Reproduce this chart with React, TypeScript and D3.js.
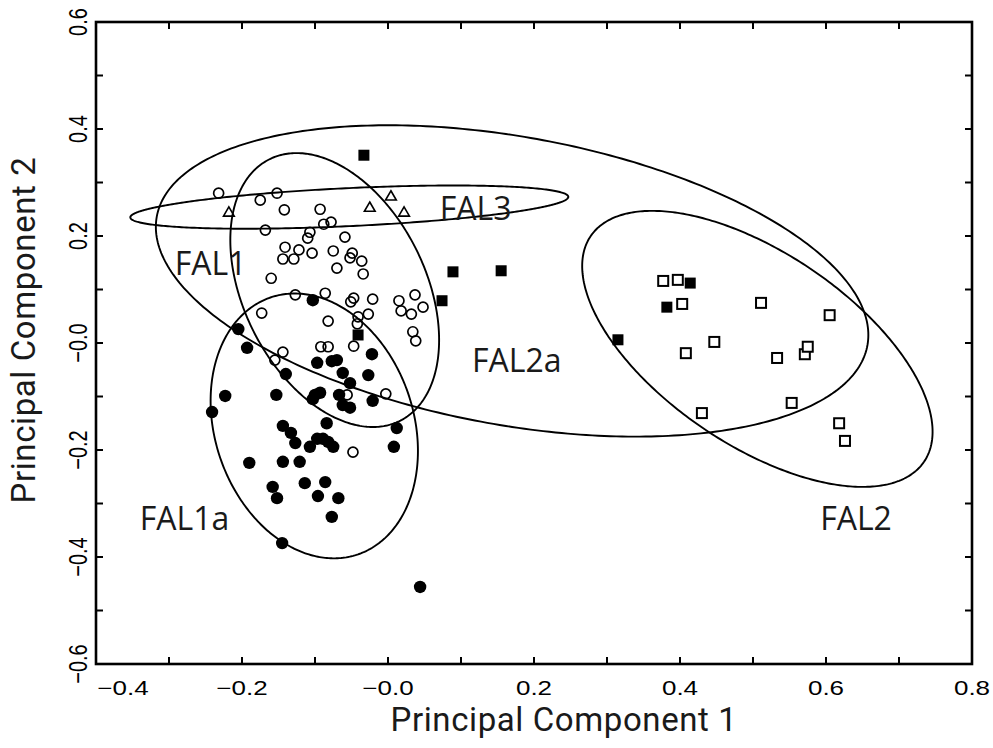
import React from 'react';
import * as d3 from 'd3';

const W = 993;
const H = 748;

// FAL1 – open circles
const fal1X = [-0.232, -0.175, -0.152, -0.142, -0.093, -0.088, -0.078, -0.168, -0.107, -0.110, -0.059, -0.141, -0.122, -0.104, -0.144, -0.129, -0.075, -0.049, -0.052, -0.036, -0.070, -0.034, -0.160, -0.127, -0.086, -0.051, -0.047, -0.021, 0.015, 0.037, 0.018, 0.032, 0.048, -0.173, -0.082, -0.027, -0.041, -0.042, 0.034, 0.038, -0.047, -0.092, -0.082, -0.144, -0.155, -0.003, -0.056, -0.048];
const fal1Y = [0.280, 0.267, 0.280, 0.249, 0.250, 0.222, 0.226, 0.211, 0.207, 0.196, 0.198, 0.179, 0.174, 0.168, 0.157, 0.157, 0.172, 0.168, 0.159, 0.153, 0.140, 0.129, 0.121, 0.090, 0.093, 0.077, 0.084, 0.082, 0.079, 0.090, 0.060, 0.054, 0.067, 0.056, 0.041, 0.054, 0.049, 0.036, 0.021, 0.004, -0.006, -0.007, -0.007, -0.017, -0.032, -0.095, -0.097, -0.204];

// FAL1a – filled circles
const fal1aX = [-0.103, -0.205, -0.193, -0.022, -0.097, -0.077, -0.070, -0.140, -0.062, -0.052, -0.027, -0.223, -0.153, -0.100, -0.093, -0.103, -0.067, -0.062, -0.052, -0.021, -0.241, -0.084, 0.012, -0.144, -0.133, -0.127, -0.107, -0.097, -0.089, -0.082, -0.075, 0.008, -0.190, -0.144, -0.121, -0.114, -0.086, -0.158, -0.152, -0.096, -0.068, -0.077, -0.145, 0.044];
const fal1aY = [0.080, 0.026, -0.009, -0.021, -0.037, -0.034, -0.032, -0.058, -0.056, -0.075, -0.060, -0.099, -0.097, -0.097, -0.093, -0.105, -0.097, -0.116, -0.121, -0.108, -0.129, -0.150, -0.159, -0.155, -0.168, -0.187, -0.194, -0.179, -0.179, -0.185, -0.194, -0.194, -0.224, -0.222, -0.222, -0.262, -0.260, -0.269, -0.290, -0.286, -0.290, -0.325, -0.374, -0.456];

// FAL2 – open squares
const fal2X = [0.377, 0.397, 0.403, 0.511, 0.605, 0.447, 0.408, 0.533, 0.571, 0.575, 0.430, 0.553, 0.618, 0.626];
const fal2Y = [0.116, 0.118, 0.073, 0.075, 0.052, 0.002, -0.019, -0.028, -0.021, -0.007, -0.131, -0.112, -0.150, -0.183];

// FAL2a – filled squares
const fal2aX = [-0.033, 0.089, 0.155, 0.074, -0.041, 0.315, 0.382, 0.414];
const fal2aY = [0.351, 0.133, 0.135, 0.079, 0.015, 0.006, 0.067, 0.112];

// FAL3 – open triangles
const fal3X = [-0.218, -0.025, 0.004, 0.022];
const fal3Y = [0.243, 0.252, 0.273, 0.243];

// Group ellipses: centre, x/y half-extent and correlation
const ellipseNames = ['FAL1', 'FAL1a', 'FAL2', 'FAL2a', 'FAL3'];
const ellipseCx = [-0.073, -0.101, 0.506, 0.170, -0.053];
const ellipseCy = [0.099, -0.155, -0.011, 0.116, 0.254];
const ellipseSdX = [0.143, 0.142, 0.240, 0.488, 0.300];
const ellipseSdY = [0.256, 0.2475, 0.258, 0.291, 0.0404];
const ellipseR = [-0.365, -0.189, -0.60, -0.347, 0.474];

// Group labels (left end of text, baseline)
const labelNames = ['FAL1', 'FAL3', 'FAL2a', 'FAL1a', 'FAL2'];
const labelX = [-0.292, 0.071, 0.115, -0.340, 0.592];
const labelY = [0.127, 0.230, -0.054, -0.350, -0.350];

// Axes
const xTickValues = [-0.4, -0.2, 0.0, 0.2, 0.4, 0.6, 0.8];
const xTickLabels = ['\u22120.4', '\u22120.2', '\u22120.0', '0.2', '0.4', '0.6', '0.8'];
const yTickValues = [-0.6, -0.4, -0.2, 0.0, 0.2, 0.4, 0.6];
const yTickLabels = ['\u22120.6', '\u22120.4', '\u22120.2', '\u22120.0', '0.2', '0.4', '0.6'];
const minorSteps = d3.range(-4, 9).map((i) => i / 10);
const minorStepsY = d3.range(-6, 7).map((i) => i / 10);

const X0 = 96, X1 = 972, Y0 = 664, Y1 = 22;

export default function App() {
  const x = d3.scaleLinear().domain([-0.4, 0.8]).range([X0, X1]);
  const y = d3.scaleLinear().domain([-0.6, 0.6]).range([Y0, Y1]);

  const ellipsePath = (i: number) => {
    const sx = ellipseSdX[i], sy = ellipseSdY[i], r = ellipseR[i];
    const k = Math.sqrt(1 - r * r);
    const pts = d3.range(0, 360, 1).map((deg) => {
      const t = (deg * Math.PI) / 180;
      return [
        ellipseCx[i] + sx * Math.cos(t),
        ellipseCy[i] + sy * (r * Math.cos(t) + k * Math.sin(t)),
      ] as [number, number];
    });
    return d3
      .line<[number, number]>()
      .x((d) => x(d[0]))
      .y((d) => y(d[1]))
      .curve(d3.curveLinearClosed)(pts) as string;
  };

  const tri = d3.symbol().type(d3.symbolTriangle).size(50)() as string;
  const tickLen = 7;
  const tickFont = "'Liberation Sans', Arial, sans-serif";
  const labelFont = "'Open Sans', 'Noto Sans', sans-serif";
  const titleFont = "Roboto, 'Open Sans', sans-serif";

  return (
    <svg
      width={W}
      height={H}
      viewBox={`0 0 ${W} ${H}`}
      style={{ position: 'absolute', left: 0, top: 0, background: '#fff' }}
    >
      <rect x={0} y={0} width={W} height={H} fill="#fff" />

      {/* ticks on all four sides */}
      <g stroke="#000" strokeWidth={2}>
        {minorSteps.map((v) => (
          <g key={'xt' + v}>
            <line x1={x(v)} x2={x(v)} y1={Y0} y2={Y0 - tickLen} />
            <line x1={x(v)} x2={x(v)} y1={Y1} y2={Y1 + tickLen} />
          </g>
        ))}
        {minorStepsY.map((v) => (
          <g key={'yt' + v}>
            <line x1={X0} x2={X0 + tickLen} y1={y(v)} y2={y(v)} />
            <line x1={X1} x2={X1 - tickLen} y1={y(v)} y2={y(v)} />
          </g>
        ))}
      </g>

      {/* ellipses */}
      <g fill="none" stroke="#000" strokeWidth={1.9}>
        {ellipseNames.map((n, i) => (
          <path key={n} d={ellipsePath(i)} />
        ))}
      </g>

      {/* points */}
      <g>
        {fal1X.map((v, i) => (
          <circle key={'a' + i} cx={x(v)} cy={y(fal1Y[i])} r={5} fill="none" stroke="#000" strokeWidth={1.7} />
        ))}
        {fal1aX.map((v, i) => (
          <circle key={'b' + i} cx={x(v)} cy={y(fal1aY[i])} r={6.2} fill="#000" />
        ))}
        {fal2X.map((v, i) => (
          <rect key={'c' + i} x={x(v) - 5} y={y(fal2Y[i]) - 5} width={10} height={10} fill="#fff" stroke="#000" strokeWidth={2} />
        ))}
        {fal2aX.map((v, i) => (
          <rect key={'d' + i} x={x(v) - 5.5} y={y(fal2aY[i]) - 5.5} width={11} height={11} fill="#000" />
        ))}
        {fal3X.map((v, i) => (
          <path key={'e' + i} d={tri} transform={`translate(${x(v)},${y(fal3Y[i])})`} fill="none" stroke="#000" strokeWidth={1.6} />
        ))}
      </g>

      {/* frame */}
      <rect x={X0} y={Y1} width={X1 - X0} height={Y0 - Y1} fill="none" stroke="#000" strokeWidth={2.6} />

      {/* group labels */}
      <g fontFamily={labelFont} fontSize={32} fill="#1a1a1a">
        {labelNames.map((n, i) => (
          <text key={n} x={x(labelX[i])} y={y(labelY[i])}>
            {n}
          </text>
        ))}
      </g>

      {/* tick labels */}
      <g fontFamily={tickFont} fontSize={20} fill="#000">
        {xTickValues.map((v, i) => {
          const px = i === 0 ? x(v) + 27 : x(v);
          return (
            <text key={'xl' + v} textAnchor="middle" transform={`translate(${px},695) scale(1.3,1)`}>
              {xTickLabels[i]}
            </text>
          );
        })}
        {yTickValues.map((v, i) => (
          <text key={'yl' + v} textAnchor="middle" transform={`translate(87,${y(v)}) scale(1.3,1) rotate(-90)`}>
            {yTickLabels[i]}
          </text>
        ))}
      </g>

      {/* axis titles */}
      <text x={564} y={731} textAnchor="middle" fontFamily={titleFont} fontSize={33} letterSpacing={0.6} fill="#1a1a1a">
        Principal Component 1
      </text>
      <text transform="translate(35,330) rotate(-90)" textAnchor="middle" fontFamily={titleFont} fontSize={33} letterSpacing={0.6} fill="#1a1a1a">
        Principal Component 2
      </text>
    </svg>
  );
}
